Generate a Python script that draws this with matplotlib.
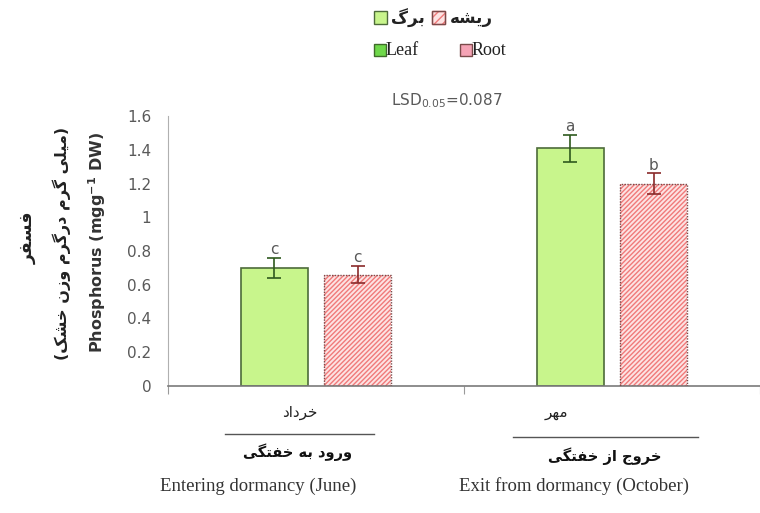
import matplotlib
matplotlib.use("Agg")
import matplotlib.pyplot as plt
from matplotlib.patches import Rectangle
import numpy as np

# data
seasons = [0, 1]
leaf = [0.70, 1.41]
leaf_err = [0.06, 0.08]
root = [0.66, 1.20]
root_err = [0.05, 0.06]
leaf_letters = ["c", "a"]
root_letters = ["c", "b"]
yticks = [0, 0.2, 0.4, 0.6, 0.8, 1, 1.2, 1.4, 1.6]
ytick_labels = ["0", "0.2", "0.4", "0.6", "0.8", "1", "1.2", "1.4", "1.6"]
eng_labels = ["Entering dormancy (June)", "Exit from dormancy (October)"]
# Persian written in presentation forms, visual order (matplotlib has no shaping)
fa_month = ["\uFEA9\uFE8D\uFEA9\uFEAE\uFEA7",          # khordad
            "\uFEAE\uFEEC\uFEE3"]                      # mehr
fa_stage = ["\uFEF0\uFB95\uFE98\uFED4\uFEA7 \uFEEA\uFE91 \uFEA9\uFEED\uFEAD\uFEED",
            "\uFEF0\uFB95\uFE98\uFED4\uFEA7 \uFEAF\uFE8D \uFE9D\uFEED\uFEAE\uFEA7"]
fa_leaf = "\uFB92\uFEAE\uFE91"
fa_root = "\uFEEA\uFEB8\uFBFE\uFEAD"
fa_phos = "\uFEAE\uFED4\uFEB4\uFED3"
fa_unit = "(\uFB8F\uFEB8\uFEA7 \uFEE5\uFEAF\uFEED \uFEE1\uFEAE\uFB94\uFEAD\uFEA9 \uFEE1\uFEAE\uFB94 \uFEF0\uFEE0\uFEF4\uFEE3)"

LEAF_FC = "#c8f58c"
LEAF_EC = "#4d6b3a"
ROOT_FC = "#fde3e3"
ROOT_HATCH = "#f07a7a"
ROOT_EC = "#7a4a4a"
GREY = "#595959"

W, H = 760, 513


def fx(px):
    return px / W


def fy(py):
    return 1 - py / H


fig = plt.figure(figsize=(7.6, 5.13), dpi=100)
ax = fig.add_axes([fx(168), fy(386), fx(760) - fx(168), fy(116) - fy(386)])

x = np.array(seasons, dtype=float)
bw = 0.226
off = 0.141

ax.bar(x - off, leaf, bw, color=LEAF_FC, edgecolor=LEAF_EC, linewidth=1.2, zorder=2)
ax.bar(x + off, root, bw, color=ROOT_FC, edgecolor=ROOT_HATCH, hatch="///////",
       linewidth=0, zorder=2)
ax.bar(x + off, root, bw, fill=False, edgecolor=ROOT_EC, linewidth=1.0,
       linestyle=(0, (1, 1)), zorder=3)

ax.errorbar(x - off, leaf, yerr=leaf_err, fmt="none", ecolor="#2f5a1e",
            elinewidth=1.2, capsize=5, capthick=1.2, zorder=4)
ax.errorbar(x + off, root, yerr=root_err, fmt="none", ecolor="#8a2a2a",
            elinewidth=1.2, capsize=5, capthick=1.2, zorder=4)

for xi, v, e, t in zip(x - off, leaf, leaf_err, leaf_letters):
    ax.text(xi, v + e + 0.005, t, ha="center", va="bottom", fontsize=11, color=GREY)
for xi, v, e, t in zip(x + off, root, root_err, root_letters):
    ax.text(xi, v + e + 0.005, t, ha="center", va="bottom", fontsize=11, color=GREY)

ax.set_xlim(-0.5, 1.45)
ax.set_ylim(0, 1.6)
ax.set_yticks(yticks)
ax.set_yticklabels(ytick_labels, fontsize=11, color=GREY)
ax.tick_params(axis="y", length=0, pad=12)
ax.set_xticks([-0.5, 0.5, 1.5])
ax.set_xticklabels([])
ax.tick_params(axis="x", direction="out", length=6, color="#9a9a9a")
for s in ["top", "right"]:
    ax.spines[s].set_visible(False)
ax.spines["left"].set_color("#b0b0b0")
ax.spines["bottom"].set_color("#7a7a7a")
ax.spines["bottom"].set_linewidth(1.2)
ax.spines["left"].set_bounds(0, 1.6)

# title
fig.text(fx(447), fy(101), r"LSD$_{0.05}$=0.087", ha="center", va="center",
         fontsize=11, color=GREY)

# y labels
fig.text(fx(28), fy(238), fa_phos, rotation=90, ha="center", va="center",
         fontsize=12.5, fontweight="bold", color="#222222")
fig.text(fx(62), fy(243), fa_unit, rotation=90, ha="center", va="center",
         fontsize=11.5, fontweight="bold", color="#222222")
fig.text(fx(97), fy(243), r"Phosphorus (mgg$^{\mathbf{-1}}$ DW)", rotation=90,
         ha="center", va="center", fontsize=11.5, fontweight="bold", color="#333333")

# category labels
fa_x = [300, 556]
stage_x = [298, 605]
line_x = [(225, 374), (513, 698)]
line_y = [434, 437]
stage_y = [452, 456]
eng_x = [258, 574]
for i in range(len(seasons)):
    fig.text(fx(fa_x[i]), fy(413), fa_month[i], ha="center", va="center",
             fontsize=11, color="#222222")
    fig.add_artist(plt.Line2D([fx(line_x[i][0]), fx(line_x[i][1])],
                              [fy(line_y[i]), fy(line_y[i])],
                              color="#555555", linewidth=1.0))
    fig.text(fx(stage_x[i]), fy(stage_y[i]), fa_stage[i], ha="center", va="center",
             fontsize=10.5, fontweight="bold", color="#111111")
    fig.text(fx(eng_x[i]), fy(486), eng_labels[i], ha="center", va="center",
             fontsize=13.5, family="Liberation Serif", color="#333333")

# legend
def square(px, py, size, fc, ec, hatch=None, hc=None):
    fig.add_artist(Rectangle((fx(px), fy(py + size)), size / W, size / H,
                             facecolor=fc, edgecolor=hc if hatch else ec,
                             hatch=hatch, linewidth=1.0, transform=fig.transFigure))
    if hatch:
        fig.add_artist(Rectangle((fx(px), fy(py + size)), size / W, size / H,
                                 fill=False, edgecolor=ec, linewidth=1.0,
                                 transform=fig.transFigure))


square(374, 11, 13, LEAF_FC, LEAF_EC)
fig.text(fx(391), fy(18), fa_leaf, ha="left", va="center", fontsize=12,
         fontweight="bold", color="#222222")
square(432, 11, 13, ROOT_FC, ROOT_EC, hatch="////", hc=ROOT_HATCH)
fig.text(fx(450), fy(18), fa_root, ha="left", va="center", fontsize=12,
         fontweight="bold", color="#222222")
square(374, 44, 12, "#6fd84a", "#3f6b2a")
fig.text(fx(386), fy(51), "Leaf", ha="left", va="center", fontsize=13,
         family="Liberation Serif", color="#222222")
square(460, 44, 12, "#f5a3b5", "#7a4a4a")
fig.text(fx(472), fy(51), "Root", ha="left", va="center", fontsize=13,
         family="Liberation Serif", color="#222222")

fig.savefig("out.png", dpi=100)
